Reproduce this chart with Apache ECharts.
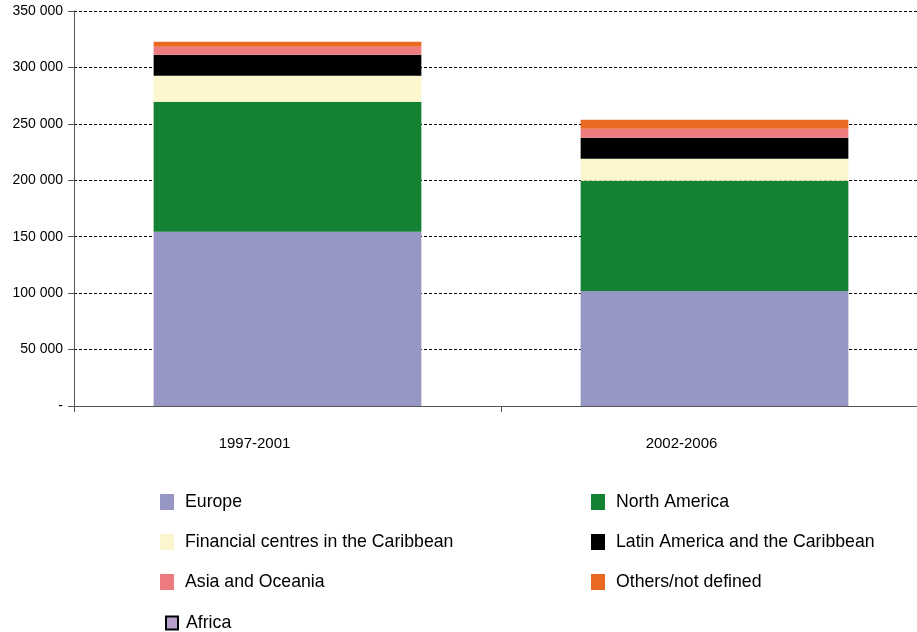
<!DOCTYPE html>
<html><head><meta charset="utf-8">
<script src="https://cdn.jsdelivr.net/npm/echarts@6/dist/echarts.min.js"></script>
<style>html,body{margin:0;padding:0;background:#fff}#c{width:917px;height:632px}</style>
</head><body><div id="c"></div>
<script>
const categories = ['1997-2001', '2002-2006'];
const europe = [154300, 102000];
const northAmerica = [115200, 97500];
const financialCentres = [23100, 19500];
const latinAmerica = [18600, 18600];
const asiaOceania = [7100, 8000];
const othersNotDefined = [4400, 8000];
const africa = [0, 0];
const yTicks = [0, 50000, 100000, 150000, 200000, 250000, 300000, 350000];

const seriesDefs = [
  ['Europe', europe, '#9797C6'],
  ['North America', northAmerica, '#138232'],
  ['Financial centres in the Caribbean', financialCentres, '#FCF6CF'],
  ['Latin America and the Caribbean', latinAmerica, '#000000'],
  ['Asia and Oceania', asiaOceania, '#EE7B80'],
  ['Others/not defined', othersNotDefined, '#E96921'],
  ['Africa', africa, '#B7A0CC']
];

const fmt = v => v === 0 ? '-' : String(v).replace(/\B(?=(\d{3})+(?!\d))/g, ' ');
const font = 'Liberation Sans, Arial, sans-serif';
const legendText = {fontFamily: font, fontSize: 17.7, lineHeight: 16, color: '#000', padding: [0, 0, 0, 6]};

const chart = echarts.init(document.getElementById('c'), null, {renderer: 'canvas'});
chart.setOption({
  animation: false,
  backgroundColor: '#fff',
  grid: {left: 74, top: 11, width: 854, height: 395, containLabel: false, outerBoundsMode: 'none'},
  xAxis: {
    type: 'category', data: categories, boundaryGap: true,
    axisLine: {lineStyle: {color: '#555', width: 1}},
    axisTick: {show: true, length: 6, lineStyle: {color: '#555'}},
    axisLabel: {fontFamily: font, fontSize: 15, color: '#000', margin: 30, padding: [0, 66, 0, 0]}
  },
  yAxis: {
    type: 'value', min: 0, max: 350000, interval: 50000,
    axisLine: {show: true, lineStyle: {color: '#555', width: 1}},
    axisTick: {show: true, length: 6, lineStyle: {color: '#555'}},
    axisLabel: {fontFamily: font, fontSize: 14, color: '#000', margin: 11, formatter: fmt},
    splitLine: {show: true, lineStyle: {color: '#000', type: [3, 2], width: 1}}
  },
  legend: [
    {left: 160, top: 493, padding: 0, orient: 'vertical', itemWidth: 14, itemHeight: 16, itemGap: 22,
     icon: 'rect', textStyle: legendText,
     data: ['Europe', 'Financial centres in the Caribbean', 'Asia and Oceania']},
    {left: 591, top: 493, padding: 0, orient: 'vertical', itemWidth: 14, itemHeight: 16, itemGap: 22,
     icon: 'rect', textStyle: legendText,
     data: ['North America', 'Latin America and the Caribbean', 'Others/not defined']},
    {left: 165, top: 614, padding: 0, orient: 'vertical', itemWidth: 12, itemHeight: 13, icon: 'rect',
     textStyle: {fontFamily: font, fontSize: 17.7, lineHeight: 16, color: '#000', padding: [0, 0, 0, 3]},
     data: [{name: 'Africa', itemStyle: {borderColor: '#000', borderWidth: 2}}]}
  ],
  series: seriesDefs.map(([name, data, color]) => ({
    name, type: 'bar', stack: 'total', data, barWidth: '62.7%',
    itemStyle: {color}
  }))
});
</script></body></html>
